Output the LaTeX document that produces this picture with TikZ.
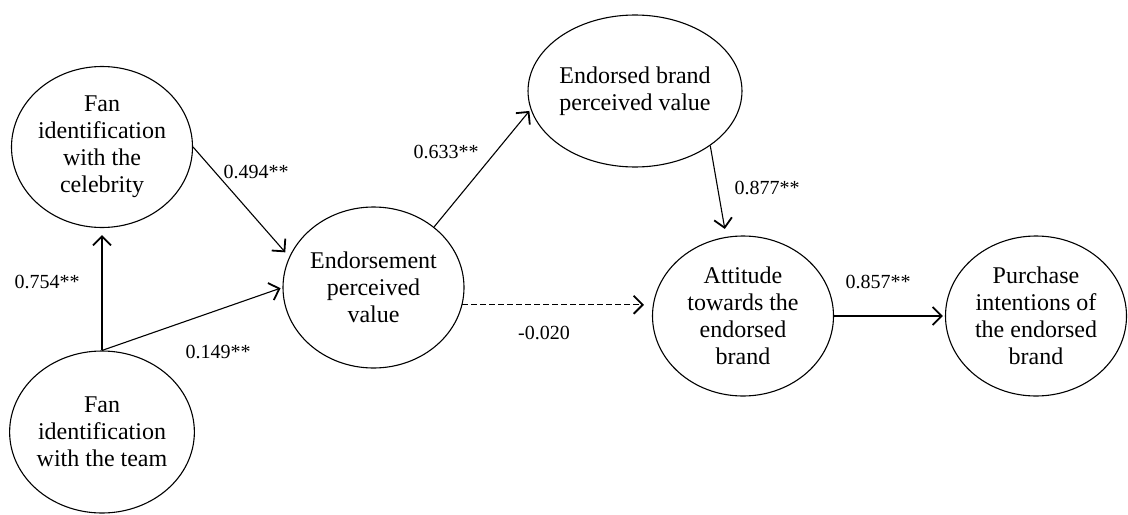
\documentclass[tikz,border=0pt]{standalone}
\usepackage{fontspec}
\setmainfont{Liberation Serif}
\usetikzlibrary{arrows.meta,shapes.geometric}

\begin{document}
\begin{tikzpicture}[x=0.5pt,y=-0.5pt,>={Straight Barb[length=4.5pt,width=9pt,line width=0.9pt]},shorten >=1pt,line width=0.55pt,main node/.style={ellipse,draw,align=center,inner sep=0pt,minimum width=90.5pt,minimum height=80pt,font=\fontsize{12}{13.5}\selectfont},coef/.style={font=\fontsize{10}{12}\selectfont}]

                \useasboundingbox (0,0) rectangle (1128,514);

                \node[main node, minimum height=80.5pt] (cel) at (102,147) {Fan\\identification\\with the\\celebrity};
                \node[main node, minimum height=81pt] (team) [below of = cel, node distance=142.5pt] {Fan\\identification\\with the team};
                \node[main node, minimum height=80.5pt] (endv) at (373.5,287.5) {Endorsement\\perceived\\value};
                \node[main node, minimum height=76pt] (brandv) at (635,91) {Endorsed brand\\perceived value};
                \node[main node] (att) at (743,316) {Attitude\\towards the\\endorsed\\brand};
                \node[main node] (pur) [right of = att, node distance=146.5pt] {Purchase\\intentions of\\the endorsed\\brand};

                \draw[->, shorten >=3.5pt] (team.north) to (cel.south);
                \draw[->] (team.north) to (endv.west);
                \draw[->, shorten >=3pt] (cel.east) to (endv.160);
                \draw[->] (endv.45) to (brandv.190);
                \draw[->, shorten >=4pt] (brandv.-36) to (att.102);
                \draw[->, dashed, dash pattern=on 3pt off 1.5pt, shorten >=4pt] (endv.-11) to (endv.-11 -| att.west);
                \draw[->] (att.east) to (pur.west);

                \node[coef] (l754) at (47,282) {0.754**};
                \node[coef] (l494) at (256,172) {0.494**};
                \node[coef] (l149) at (218,352) {0.149**};
                \node[coef] (l633) at (446,152) {0.633**};
                \node[coef] (l877) at (767,188) {0.877**};
                \node[coef] (l020) at (544,333) {-0.020};
                \node[coef] (l857) at (878,282) {0.857**};

                ;
            \end{tikzpicture}
\end{document}
